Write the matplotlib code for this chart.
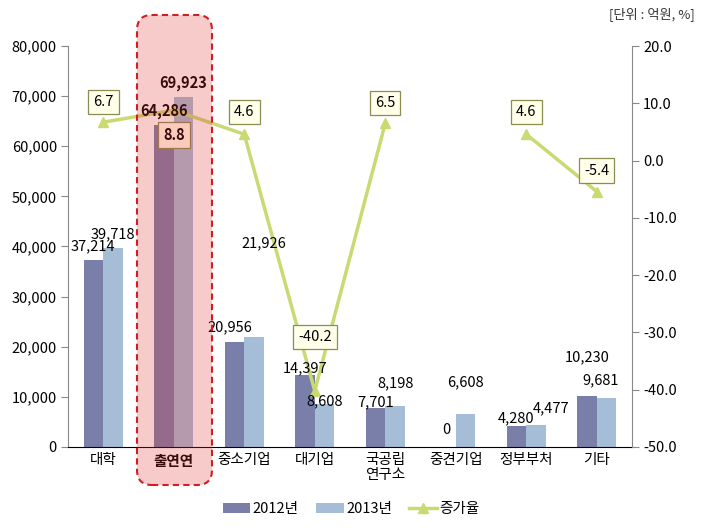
import numpy as np
import matplotlib
matplotlib.use("agg")
import matplotlib.pyplot as plt
from matplotlib.patches import FancyBboxPatch

plt.rcParams['font.family'] = ['Noto Sans CJK KR', 'DejaVu Sans']
plt.rcParams['axes.unicode_minus'] = False

# 데이터
categories = ['대학', '출연연', '중소기업', '대기업', '국공립\n연구소', '중견기업', '정부부처', '기타']
val_2012 = [37214, 64286, 20956, 14397, 7701, 0, 4280, 10230]
val_2013 = [39718, 69923, 21926, 8608, 8198, 6608, 4477, 9681]
growth = [6.7, 8.8, 4.6, -40.2, 6.5, np.nan, 4.6, -5.4]

# 라벨 위치 조정 (픽셀 오프셋)
off_2012 = [(0, 14), (0, 14), (-5, 15), (0, 7), (0, 6), (0, 17), (0, 7), (0, 38)]
off_2013 = [(0, 14), (0, 14), (10, 94), (0, 3), (0, 23), (0, 32), (15, 16), (-6, 18)]
off_growth = [(0, 20), (0, -25), (0, 22), (0, 54), (0, 20), (0, 0), (0, 22), (0, 21)]

c12 = '#797fa9'
c13 = '#a5bdd7'
cline = '#c9da72'

fig = plt.figure(figsize=(7.02, 5.31), dpi=100)
ax = fig.add_axes([68/702, 84/531, 564/702, 401/531])
ax2 = ax.twinx()

x = np.arange(len(categories))
w = 0.28
ax.bar(x - w/2, val_2012, w, color=c12, label='2012년', zorder=2)
ax.bar(x + w/2, val_2013, w, color=c13, label='2013년', zorder=2)

ax.set_xlim(-0.5, len(categories) - 0.5)
ax.set_ylim(0, 80000)
ax.set_yticks(range(0, 80001, 10000))
ax.set_yticklabels([f'{v:,}' for v in range(0, 80001, 10000)], fontsize=10.5)
ax.set_xticks(x)
ax.set_xticklabels(categories, fontsize=10.5, linespacing=1.1)
ax.get_xticklabels()[1].set_fontweight('bold')
ax.tick_params(axis='x', length=0, pad=4)
ax.tick_params(axis='y', length=5, color='#888888', pad=3)
for s in ['top', 'right']:
    ax.spines[s].set_visible(False)
ax.spines['left'].set_color('#888888')
ax.spines['bottom'].set_color('black')

ax2.plot(x, growth, color=cline, lw=2.5, marker='^', ms=7, label='증가율', zorder=3)
ax2.set_ylim(-50, 20)
ax2.set_yticks(range(-50, 21, 10))
ax2.set_yticklabels([f'{v:.1f}' for v in range(-50, 21, 10)], fontsize=10.5)
ax2.tick_params(axis='y', length=5, color='#888888', pad=3)
for s in ['top', 'left', 'bottom']:
    ax2.spines[s].set_visible(False)
ax2.spines['right'].set_color('#888888')

# 막대 라벨 (선 위에 그리기 위해 ax2에 배치)
for i in range(len(categories)):
    bold = 'bold' if i == 1 else 'normal'
    ax2.annotate(f'{val_2012[i]:,}', (x[i] - w/2, val_2012[i]), xycoords=ax.transData,
                 xytext=off_2012[i], textcoords='offset pixels', ha='center', va='center',
                 fontsize=10.5, fontweight=bold, zorder=5)
    ax2.annotate(f'{val_2013[i]:,}', (x[i] + w/2, val_2013[i]), xycoords=ax.transData,
                 xytext=off_2013[i], textcoords='offset pixels', ha='center', va='center',
                 fontsize=10.5, fontweight=bold, zorder=5)

for i, g in enumerate(growth):
    if np.isnan(g):
        continue
    ax2.annotate(f'{g:.1f}', (x[i], g), xytext=off_growth[i],
                 textcoords='offset pixels', ha='center', va='center',
                 fontsize=10.5, fontweight='bold' if i == 1 else 'normal', zorder=6,
                 bbox=dict(boxstyle='square,pad=0.35', fc='#ffffea', ec='#8c8c55', lw=0.9))

# 출연연 강조 박스
hl = FancyBboxPatch((1.37, 0.46), 0.75, 4.70, boxstyle='round,pad=0,rounding_size=0.15',
                    transform=fig.dpi_scale_trans, fc=(0.9, 0.2, 0.2, 0.25),
                    ec='#d41c24', lw=1.5, ls=(0, (3, 2)), zorder=10)
fig.add_artist(hl)

h1, l1 = ax.get_legend_handles_labels()
h2, l2 = ax2.get_legend_handles_labels()
fig.legend(h1 + h2, l1 + l2, loc='center', bbox_to_anchor=(0.5, 1 - 509/531), ncol=3,
           frameon=False, fontsize=10.5, handlelength=1.9, handleheight=0.7,
           columnspacing=1.2, handletextpad=0.15)

fig.text(0.99, 1 - 14/531, '[단위 : 억원, %]', ha='right', va='center', fontsize=9.5, color='#333333')

plt.savefig('out.png', dpi=100)
